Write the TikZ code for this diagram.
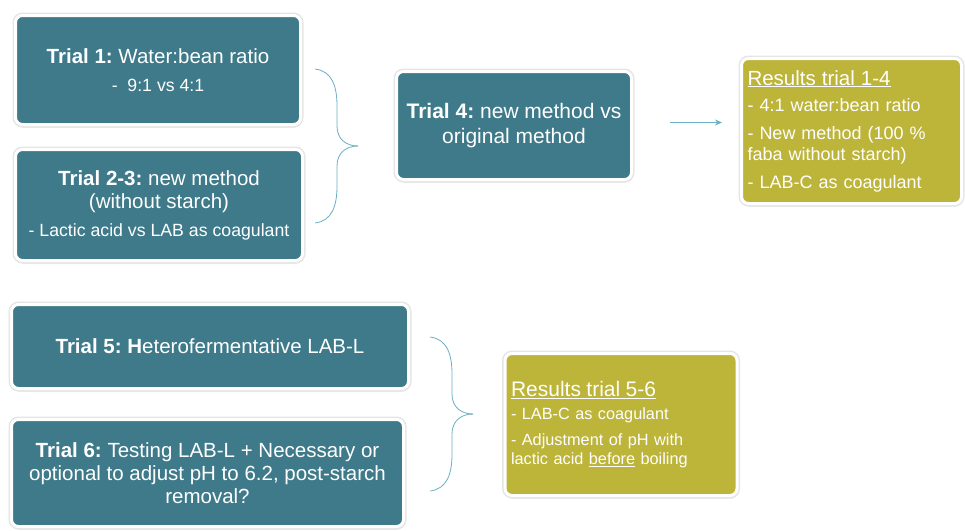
\documentclass[tikz,border=0pt]{standalone}
\usepackage{fontspec}
\setmainfont{Liberation Sans}
\usetikzlibrary{shadows}
\usetikzlibrary{arrows.meta}
\usetikzlibrary{calc}
\usetikzlibrary{positioning}

\definecolor{trialteal}{HTML}{3E7A8A}
\definecolor{resultolive}{HTML}{BDB43A}
\definecolor{bracecol}{HTML}{6AAFC2}

\newcommand{\subline}{\fontsize{17.7}{21}\selectfont}
\newcommand{\headline}{\fontsize{20.5}{23}\selectfont}

\tikzset{
    box/.style = {rounded corners = 7pt, draw = white, line width = 3pt, text = white, inner sep = 6pt,
                  drop shadow = {shadow xshift = 1pt, shadow yshift = -3pt, opacity = 0.18, fill = black!60},
                  preaction = {draw = black!10, line width = 6pt}},
    trialbox/.style = {box, fill = trialteal, align = center, font = \headline},
    resultbox/.style = {box, fill = resultolive, align = left},
    bracket/.style = {draw = bracecol, line width = 0.8pt},
    flow/.style = {draw = bracecol, line width = 1pt, -{Stealth[length = 7pt, width = 6pt]}},
}

\begin{document}
\frenchspacing
\begin{tikzpicture}[x = 1pt, y = -1pt]

    \useasboundingbox (0,0) rectangle (965,530);

    % first block: trials 1-4
    \node[trialbox, minimum width = 285, minimum height = 109] (T1) at (158,70)
        {\textbf{Trial 1:} Water:bean ratio\\[5pt] {\subline -\ \ 9:1 vs 4:1}};
    \node[trialbox, minimum width = 287, minimum height = 111] (T23) at (159,205)
        {\textbf{Trial 2-3:} new method\\(without starch)\\[5pt] {\subline - Lactic acid vs LAB as coagulant}};
    \node[trialbox, minimum width = 235, minimum height = 108, font = \fontsize{21}{25}\selectfont] (T4) at (514,125.5)
        {\textbf{Trial 4:} new method vs\\original method};
    \node[resultbox, minimum width = 220, minimum height = 145, text width = 208, font = \fontsize{18}{21}\selectfont] (R14) at (851.5,131)
        {{\headline\underline{Results trial 1-4}}\\[5pt]
         - 4:1 water:bean ratio\\[7pt]
         - New method (100 \%\\faba without starch)\\[7pt]
         - LAB-C as coagulant};

    % second block: trials 5-6
    \node[trialbox, minimum width = 397, minimum height = 84] (T5) at (210,346.5)
        {\textbf{Trial 5: H}eterofermentative LAB-L};
    \node[trialbox, minimum width = 392, minimum height = 107] (T6) at (207.5,473)
        {\textbf{Trial 6:} Testing LAB-L + Necessary or\\optional to adjust pH to 6.2, post-starch\\removal?};
    \node[resultbox, minimum width = 229, minimum height = 142, text width = 220, font = \fontsize{16.3}{19}\selectfont] (R56) at (621,424.5)
        {{\fontsize{21}{24}\selectfont\underline{Results trial 5-6}}\\[4pt]
         - LAB-C as coagulant\\[7pt]
         - Adjustment of pH with\\lactic acid \underline{before} boiling};

    % braces gathering the trials
    \coordinate (TipA) at (358,146);
    \coordinate (TipB) at (473,414);

    \foreach \TIP in {TipA, TipB}{
        \foreach \S in {1,-1}{
            \begin{scope}[shift = (\TIP), yscale = \S]
                \draw[bracket] (0,0) .. controls (-12,0) and (-21,-7) .. (-21,-20)
                    -- (-21,-40) .. controls (-21,-60) and (-26,-75) .. (-43,-77);
            \end{scope}}
    }

    \draw[flow, shorten <= 37pt, shorten >= 18pt] ($(T4.east)+(0,-3)$) -- ($(T4.east -| R14.west)+(0,-3)$);

\end{tikzpicture}
\end{document}
